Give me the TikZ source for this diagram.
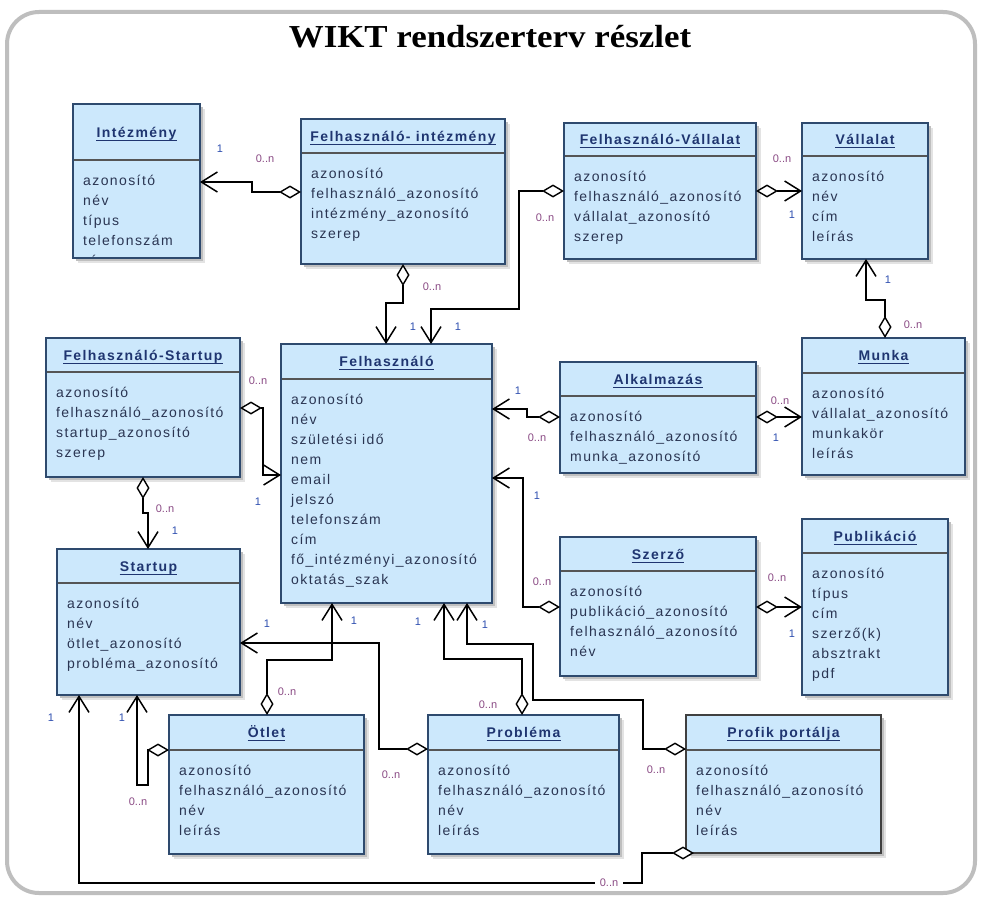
\documentclass[tikz,border=0pt]{standalone}
\usepackage{fontspec}
\setmainfont{Liberation Sans}
\newfontfamily\titlefont[FakeStretch=1.09]{Liberation Serif}
\newfontfamily\boxfont[LetterSpace=10]{Liberation Sans}
\usetikzlibrary{arrows.meta}

\definecolor{boxfill}{HTML}{CCE8FC}
\definecolor{boxline}{HTML}{2E4A6E}
\definecolor{sepcol}{HTML}{555555}
\definecolor{titleblue}{HTML}{1F3570}
\definecolor{attrcol}{HTML}{2A3552}
\definecolor{onecol}{HTML}{2F4FB0}
\definecolor{manycol}{HTML}{8A4A84}
\definecolor{framecol}{HTML}{BEBEBE}

\tikzset{
  classbox/.style={rectangle, draw=boxline, fill=boxfill, line width=1.6pt, inner sep=0pt, outer sep=0pt},
  selbox/.style={draw=black!75},
  headsep/.style={draw=sepcol, line width=2pt},
  classtitle/.style={inner sep=0pt, text=titleblue, font={\boxfont\fontsize{14}{16}\selectfont\bfseries}},
  attrtext/.style={inner sep=0pt, text=attrcol, font={\boxfont\fontsize{14}{16}\selectfont}},
  conn/.style={draw=black, line width=1.5pt},
  agg/.style={conn, arrows={Diamond[fill=white,length=22pt,width=13pt,line width=1.4pt]-Straight Barb[length=16pt,width=20pt,line width=1.5pt]}},
  lone/.style={inner sep=1pt, text=onecol, font={\fontsize{11}{13}\selectfont}},
  lmany/.style={inner sep=1pt, text=manycol, font={\fontsize{11}{13}\selectfont}},
}

% #1 extra box style, #2 name, #3 x1, #4 y1, #5 x2, #6 y2, #7 header bottom, #8 title, #9 attributes
\newcommand{\umlclass}[9]{%
  \fill[gray!22] (#3+5,#4+5) rectangle (#5+5,#6+5);
  \fill[gray!50] (#3+3,#4+3) rectangle (#5+3,#6+3);
  \node[classbox,#1, minimum width={#5-#3}, minimum height={#6-#4}] (#2) at ({(#3+#5)/2},{(#4+#6)/2}) {};
  \draw[headsep] (#3+1,#7) -- (#5-1,#7);
  \node[classtitle, anchor=base] (#2-title) at ({(#3+#5)/2},{(#4+#7)/2+5}) {#8};
  \draw[titleblue, line width=0.9pt] ([yshift=-3pt]#2-title.base west) -- ([yshift=-3pt]#2-title.base east);
  \begin{scope}
    \clip (#3,#4) rectangle (#5,#6-1.5);
    \foreach \attr [count=\k] in {#9} {
      \node[attrtext, anchor=base west] (#2-a\k) at (#3+10,{#7+25+20*(\k-1)}) {\attr};
    }
  \end{scope}
}

\begin{document}
\begin{tikzpicture}[x=1pt,y=-1pt]
\useasboundingbox (0,0) rectangle (981,899);
\fill[white] (0,0) rectangle (981,899);

% outer frame and heading
\draw[framecol, line width=4pt, rounded corners=32pt] (7,12) rectangle (975,893);
\node[font={\titlefont\fontsize{32}{38}\selectfont\bfseries}] (heading) at (490,37) {WIKT rendszerterv részlet};

% classes
\umlclass{}{int}{73}{104}{200}{258}{160}{Intézmény}{azonosító,név,típus,telefonszám,cím}
\umlclass{}{fi}{301}{119}{505}{264}{153}{Felhasználó- intézmény}{azonosító,felhasználó\_azonosító,intézmény\_azonosító,szerep}
\umlclass{}{fv}{564}{123}{756}{259}{156}{Felhasználó-Vállalat}{azonosító,felhasználó\_azonosító,vállalat\_azonosító,szerep}
\umlclass{}{val}{802}{123}{928}{259}{156}{Vállalat}{azonosító,név,cím,leírás}
\umlclass{}{fs}{46}{338}{240}{477}{372}{Felhasználó-Startup}{azonosító,felhasználó\_azonosító,startup\_azonosító,szerep}
\umlclass{}{fel}{281}{344}{492}{603}{379}{Felhasználó}{azonosító,név,születési idő,nem,email,jelszó,telefonszám,cím,fő\_intézményi\_azonosító,oktatás\_szak}
\umlclass{}{alk}{560}{362}{756}{473}{396}{Alkalmazás}{azonosító,felhasználó\_azonosító,munka\_azonosító}
\umlclass{}{mun}{802}{338}{965}{475}{373}{Munka}{azonosító,vállalat\_azonosító,munkakör,leírás}
\umlclass{}{sta}{57}{549}{240}{695}{583}{Startup}{azonosító,név,ötlet\_azonosító,probléma\_azonosító}
\umlclass{}{sze}{560}{537}{756}{676}{571}{Szerző}{azonosító,publikáció\_azonosító,felhasználó\_azonosító,név}
\umlclass{}{pub}{802}{519}{948}{695}{553}{Publikáció}{azonosító,típus,cím,szerző(k),absztrakt,pdf}
\umlclass{}{otl}{169}{715}{364}{854}{750}{Ötlet}{azonosító,felhasználó\_azonosító,név,leírás}
\umlclass{}{pro}{428}{715}{619}{854}{750}{Probléma}{azonosító,felhasználó\_azonosító,név,leírás}
\umlclass{selbox}{prf}{686}{715}{881}{853}{750}{Profik portálja}{azonosító,felhasználó\_azonosító,név,leírás}

% associations (diamond end -> arrow end)
\draw[agg] (fi.west |- 0,192) -| (252,182) -- (int.east |- 0,182);
\draw[agg] (fi.south -| 403,0) |- (386,303) -- (fel.north -| 386,0);
\draw[agg] (fv.west |- 0,191) -| (519,309) -| (fel.north -| 431,0);
\draw[agg] (fv.east |- 0,191) -- (val.west |- 0,191);
\draw[agg] (mun.north -| 885,0) |- (866,300) -- (val.south -| 866,0);
\draw[agg] (alk.west |- 0,417) -| (527,409) -- (fel.east |- 0,409);
\draw[agg] (alk.east |- 0,417) -- (mun.west |- 0,417);
\draw[agg] (sze.west |- 0,607) -| (523,478) -- (fel.east |- 0,478);
\draw[agg] (sze.east |- 0,607) -- (pub.west |- 0,607);
\draw[agg] (fs.east |- 0,408) -| (263,475) -- (fel.west |- 0,475);
\draw[agg] (fs.south -| 143,0) |- (148,513) -- (sta.north -| 148,0);
\draw[agg] (otl.north -| 267,0) |- (332,660) -- (fel.south -| 332,0);
\draw[agg] (otl.west |- 0,750) -| (148,785) -| (sta.south -| 137,0);
\draw[agg] (pro.west |- 0,749) -| (379,643) -- (sta.east |- 0,643);
\draw[agg] (pro.north -| 522,0) |- (444,659) -- (fel.south -| 444,0);
\draw[agg] (prf.west |- 0,749) -| (643,700) -| (533,644) -| (fel.south -| 467,0);
\draw[agg] ([xshift=8pt]prf.south west) -| (642,883) -| (sta.south -| 79,0);

% multiplicities
\node[lone]  (m1)  at (220,149) {1};
\node[lmany] (m2)  at (265,159) {0..n};
\node[lmany] (m3)  at (432,287) {0..n};
\node[lone]  (m4)  at (413,327) {1};
\node[lmany] (m5)  at (545,218) {0..n};
\node[lone]  (m6)  at (458,327) {1};
\node[lmany] (m7)  at (782,159) {0..n};
\node[lone]  (m8)  at (792,215) {1};
\node[lone]  (m9)  at (888,280) {1};
\node[lmany] (m10) at (913,325) {0..n};
\node[lone]  (m11) at (518,391) {1};
\node[lmany] (m12) at (537,438) {0..n};
\node[lmany] (m13) at (780,401) {0..n};
\node[lone]  (m14) at (776,438) {1};
\node[lone]  (m15) at (537,496) {1};
\node[lmany] (m16) at (542,582) {0..n};
\node[lmany] (m17) at (777,578) {0..n};
\node[lone]  (m18) at (792,634) {1};
\node[lmany] (m19) at (258,381) {0..n};
\node[lone]  (m20) at (258,502) {1};
\node[lmany] (m21) at (165,509) {0..n};
\node[lone]  (m22) at (175,531) {1};
\node[lmany] (m23) at (287,692) {0..n};
\node[lone]  (m24) at (354,621) {1};
\node[lone]  (m25) at (122,718) {1};
\node[lmany] (m26) at (138,802) {0..n};
\node[lone]  (m27) at (267,624) {1};
\node[lmany] (m28) at (391,775) {0..n};
\node[lmany] (m29) at (488,705) {0..n};
\node[lone]  (m30) at (418,622) {1};
\node[lmany] (m31) at (656,770) {0..n};
\node[lone]  (m32) at (485,625) {1};
\node[lone]  (m33) at (51,718) {1};
\node[lmany, fill=white, inner xsep=5pt] (m34) at (609,883) {0..n};
\end{tikzpicture}
\end{document}
